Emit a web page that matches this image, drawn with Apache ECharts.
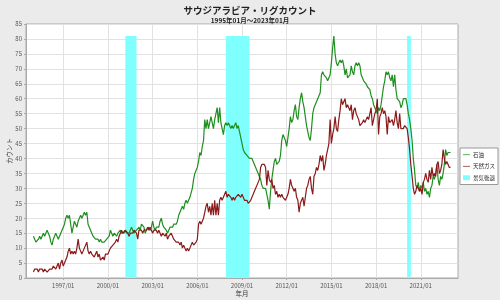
<!DOCTYPE html>
<html><head><meta charset="utf-8">
<script src="https://cdn.jsdelivr.net/npm/echarts@6/dist/echarts.min.js"></script>
<style>html,body{margin:0;padding:0;background:#ebebeb}#c{width:500px;height:300px}</style>
</head><body><div id="c"></div>
<script>
const startYear = 1995;
const oil = [
 14,13,12,12,13,14,13,14,15,14,15,16,
 16,14,12,11,13,14,15,14,13,14,15,16,
 17,18,20,21,20,21,18,15,17,19,18,17,
 19,20,21,20,21,22,21,22,18,17,16,15,
 14,14,13,13,13,12,13,12,12,12,12,13,
 13,14,16,15,14,15,15,14,15,15,16,15,
 15,15,16,15,15,15,16,17,16,15,15,16,
 16,17,16,18,18,17,15,16,16,17,16,17,
 19,17,16,17,17,17,19,20,18,17,17,16,
 15,16,17,17,17,18,18,18,19,21,22,22,
 24,23,25,26,25,26,27,27,30,33,35,36,
 37,39,42,41,44,46,53,50,53,50,52,54,
 54,50,53,55,57,52,57,52,50,48,51,52,
 51,52,51,50,51,50,51,52,50,51,49,47,
 45,43,42,42,41,41,40,40,40,39,38,37,
 37,35,34,33,31,30,30,30,28,26,23,29,
 33,36,39,40,38,38,39,41,46,48,48,46,
 44,47,50,54,52,53,56,58,54,53,57,60,
 62,59,57,54,51,49,47,46,50,55,57,58,
 58,60,60,62,68,69,68,68,67,66,66,68,
 72,77,81,75,72,71,72,73,72,73,71,68,
 70,67,67,68,71,69,68,71,72,71,72,71,
 68,67,66,66,65,64,64,63,61,60,58,57,
 56,55,57,56,58,61,64,66,69,68,69,67,
 66,68,64,68,63,60,60,59,57,58,60,60,
 60,58,55,53,50,46,40,36,31,30,32,29,
 31,30,32,29,30,28,29,27,30,31,34,33,
 35,38,33,31,34,33,35,38,43,41,42,42,
 42
];
const gas = [
 2,3,3,3,2,3,3,3,2,3,3,2,
 2,3,3,3,4,4,3,4,5,3,5,6,
 4,5,6,7,9,10,8,9,8,9,8,10,
 13,10,9,8,9,10,11,12,9,8,9,8,
 8,7,8,9,7,8,6,6,7,6,8,8,
 8,9,10,10,11,11,12,13,12,14,15,16,
 15,15,16,16,15,14,15,15,15,16,16,15,
 13,16,16,16,15,16,16,16,17,16,17,16,
 15,16,16,16,15,16,16,14,15,15,14,15,
 13,14,14,15,14,13,13,12,12,12,11,12,
 10,11,10,9,10,9,10,11,12,11,11,12,
 13,18,19,18,18,20,22,24,25,22,24,21,
 25,21,26,21,25,21,26,27,26,27,28,29,
 27,28,28,27,26,27,26,27,27,28,28,27,
 28,27,26,26,26,25,25,26,27,28,29,30,
 31,32,33,37,38,38,38,37,31,36,33,32,
 33,30,31,28,29,27,28,27,28,27,27,26,
 26,28,30,33,31,30,29,30,27,26,22,25,
 26,27,24,27,30,31,33,34,30,28,34,35,
 37,36,38,41,39,41,36,38,41,43,45,53,
 45,48,50,54,50,49,53,56,60,58,59,60,
 57,58,58,56,58,53,56,57,55,54,53,51,
 51,52,53,52,52,54,53,55,57,51,53,55,
 56,60,48,54,55,57,55,56,54,48,54,52,
 52,53,51,53,56,52,50,55,50,50,50,51,
 51,50,47,43,38,34,30,28,29,31,30,29,
 30,28,32,33,35,33,32,36,33,37,34,35,
 34,38,39,35,36,38,43,40,38,39,38,37,
 37
];
const recStart = ['2001/03','2007/12','2020/02'];
const recEnd = ['2001/12','2009/07','2020/05'];
const recTop = 81;
const xTicks = [1997,2000,2003,2006,2009,2012,2015,2018,2021];
const yMax = 85;

function ym(s){const p=s.split('/');return +p[0]+(+p[1]-1)/12;}
function toPts(arr){return arr.map((v,i)=>[startYear+i/12,v]);}

const chart = echarts.init(document.getElementById('c'));
const font = 'Noto Sans CJK JP';
chart.setOption({
  backgroundColor:'#ebebeb',
  animation:false,
  textStyle:{fontFamily:font},
  title:{text:'サウジアラビア・リグカウント',subtext:'1995年01月～2023年01月',left:'center',top:1,itemGap:2,
    textStyle:{fontSize:9.5,fontWeight:'bold',color:'#222',fontFamily:font},
    subtextStyle:{fontSize:6.5,fontWeight:'bold',color:'#222',fontFamily:font}},
  legend:{orient:'vertical',right:2,top:148,itemWidth:7,itemHeight:5,itemGap:6,padding:[4,3,4,3],
    backgroundColor:'#fff',borderColor:'#999',borderWidth:1,borderRadius:0,
    textStyle:{fontSize:5.5,color:'#222',fontFamily:font,padding:[0,0,0,-2]},
    data:[{name:'石油',icon:'path://M0,3H10V4H0Z'},{name:'天然ガス',icon:'path://M0,3H10V4H0Z'},{name:'景気後退',icon:'rect'}]},
  grid:{left:26,right:42,top:24,bottom:22,show:true,backgroundColor:'#fff',borderColor:'#aaa',borderWidth:1,
    containLabel:false,outerBoundsMode:'none'},
  xAxis:{type:'value',min:1994.5,max:2023.5,name:'年月',nameLocation:'middle',nameGap:12,nameMoveOverlap:false,
    nameTextStyle:{fontSize:6.5,color:'#333',fontFamily:font},
    axisLine:{lineStyle:{color:'#aaa'}},axisTick:{show:true,customValues:xTicks,length:2,lineStyle:{color:'#aaa'}},
    axisLabel:{customValues:xTicks,fontSize:6,color:'#555',margin:5,formatter:v=>Math.round(v)+'/01'},
    splitLine:{show:true,lineStyle:{color:'#e2e2e2',width:1}}},
  yAxis:{type:'value',min:0,max:yMax,interval:5,name:'カウント',nameLocation:'middle',nameGap:13,nameRotate:90,nameMoveOverlap:false,
    nameTextStyle:{fontSize:6.5,color:'#333',fontFamily:font},
    axisLine:{show:true,lineStyle:{color:'#aaa'}},axisTick:{show:true,length:2,lineStyle:{color:'#aaa'}},
    axisLabel:{fontSize:6,color:'#555',margin:4},
    splitLine:{show:true,lineStyle:{color:'#e2e2e2',width:1}}},
  series:[
    {name:'景気後退',type:'line',data:[],color:'#80ffff',itemStyle:{color:'#80ffff'},
      markArea:{silent:true,itemStyle:{color:'#80ffff',opacity:1},
        data:recStart.map((s,i)=>[{xAxis:ym(s),yAxis:0},{xAxis:ym(recEnd[i]),yAxis:recTop}])}},
    {name:'石油',type:'line',data:toPts(oil),showSymbol:false,color:'#1f8f1f',lineStyle:{width:1.2,color:'#1f8f1f'},z:3},
    {name:'天然ガス',type:'line',data:toPts(gas),showSymbol:false,color:'#8b1a1a',lineStyle:{width:1.2,color:'#8b1a1a'},z:4}
  ]
});
</script></body></html>
